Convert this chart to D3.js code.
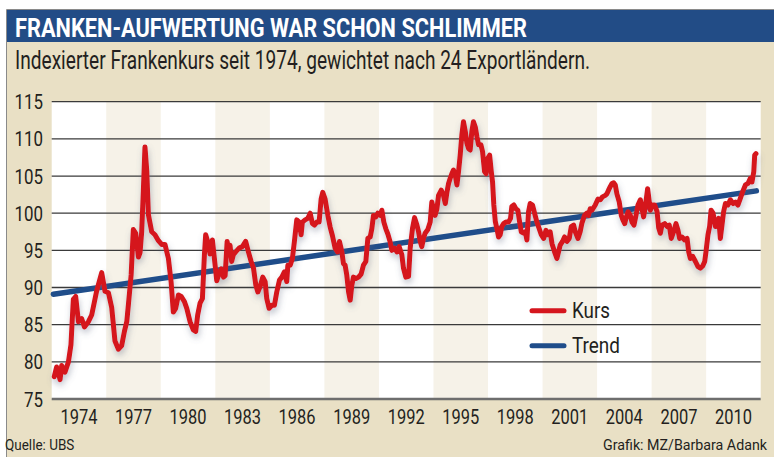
<!DOCTYPE html>
<html><head><meta charset="utf-8">
<script src="https://cdn.jsdelivr.net/npm/d3@7"></script>
<style>body{margin:0;background:#fff}svg{display:block}</style>
</head><body><svg id="c" width="774" height="457"></svg>
<script>
const title = "FRANKEN-AUFWERTUNG WAR SCHON SCHLIMMER";
const subtitle = "Indexierter Frankenkurs seit 1974, gewichtet nach 24 Exportländern.";
const source = "Quelle: UBS";
const credit = "Grafik: MZ/Barbara Adank";
const yTicks = [75, 80, 85, 90, 95, 100, 105, 110, 115];
const xTickYears = [1974, 1977, 1980, 1983, 1986, 1989, 1992, 1995, 1998, 2001, 2004, 2007, 2010];
const seriesNames = ["Kurs", "Trend"];

const kursTime = [1973.14,1973.27,1973.46,1973.55,1973.73,1973.92,1974.06,1974.19,1974.32,1974.47,1974.65,1974.80,1975.02,1975.20,1975.47,1975.75,1975.93,1976.12,1976.30,1976.48,1976.67,1976.85,1977.00,1977.13,1977.22,1977.37,1977.49,1977.62,1977.77,1977.86,1977.95,1978.04,1978.13,1978.23,1978.32,1978.50,1978.68,1978.87,1979.05,1979.23,1979.42,
1979.57,1979.69,1979.82,1979.97,1980.12,1980.30,1980.43,1980.61,1980.79,1980.92,1981.03,1981.16,1981.29,1981.40,1981.47,1981.58,1981.71,1981.84,1982.08,1982.17,1982.32,1982.45,1982.54,1982.65,1982.76,1982.81,1982.90,1982.99,1983.12,1983.31,1983.49,1983.67,1983.82,1983.97,1984.10,1984.23,1984.34,1984.46,1984.61,1984.74,1984.83,1984.96,1985.11,1985.25,1985.38,1985.53,1985.66,1985.80,
1985.93,1985.99,1986.12,1986.24,1986.35,1986.48,1986.61,1986.72,1986.79,1986.94,1987.09,1987.22,1987.34,1987.45,1987.58,1987.71,1987.82,1987.91,1988.04,1988.19,1988.32,1988.44,1988.59,1988.72,1988.83,1988.96,1989.05,1989.14,1989.23,1989.33,1989.42,1989.51,1989.60,1989.73,1989.88,1990.02,1990.15,1990.28,1990.39,1990.52,1990.61,1990.70,1990.83,1990.94,1991.07,1991.16,1991.27,1991.38,1991.49,1991.62,1991.71,1991.86,1991.99,1992.11,1992.26,1992.35,1992.48,1992.63,
1992.72,1992.85,1992.96,1993.09,1993.18,1993.27,1993.36,1993.45,1993.54,1993.69,1993.82,1993.91,1994.00,1994.09,1994.19,1994.28,1994.43,1994.55,1994.65,1994.74,1994.83,1994.92,1995.01,1995.10,1995.20,1995.29,1995.38,1995.47,1995.56,1995.65,1995.75,1995.84,1995.93,1996.02,1996.11,1996.20,1996.30,1996.39,1996.48,1996.61,1996.70,1996.81,1996.90,1996.99,1997.09,1997.18,1997.25,1997.32,1997.40,1997.49,1997.58,1997.67,1997.76,1997.86,1997.98,1998.13,1998.24,1998.31,1998.42,1998.53,1998.64,1998.74,1998.83,1998.96,1999.05,1999.14,1999.23,
1999.32,1999.45,1999.56,1999.69,1999.82,1999.93,2000.06,2000.19,2000.30,2000.42,2000.52,2000.66,2000.79,2000.88,2000.97,2001.10,2001.21,2001.34,2001.47,2001.58,2001.71,2001.80,2001.95,2002.07,2002.17,2002.31,2002.44,2002.53,2002.62,2002.72,2002.90,2003.05,2003.18,2003.30,2003.45,2003.54,2003.63,2003.73,2003.82,2003.91,2004.00,2004.09,2004.22,2004.33,2004.42,2004.52,2004.61,2004.70,2004.83,2004.92,2005.03,2005.14,2005.25,2005.38,2005.47,2005.56,
2005.65,2005.78,2005.93,2006.02,2006.17,2006.30,2006.39,2006.48,2006.57,2006.72,2006.85,2006.97,2007.08,2007.21,2007.34,2007.45,2007.54,2007.67,2007.82,2007.95,2008.04,2008.13,2008.26,2008.41,2008.55,2008.68,2008.81,2008.92,2008.99,2009.10,2009.19,2009.27,2009.38,2009.51,2009.60,2009.69,2009.78,2009.87,2009.96,2010.06,2010.20,2010.33,2010.48,2010.61,2010.75,2010.88,2011.01,2011.16,2011.30,2011.43,2011.52,2011.62,2011.67,2011.74];

const kursValue = [78.0,79.3,77.6,79.5,78.6,80.0,82.3,88.4,88.8,85.4,85.8,84.7,85.4,86.3,89.5,92.0,89.5,89.3,87.3,82.8,81.7,82.2,84.1,85.4,87.7,91.7,97.8,97.3,94.1,94.7,97.5,102.9,108.9,105.7,99.8,97.5,97.1,96.3,95.8,95.8,93.9,
90.7,86.7,87.2,89.0,88.8,88.1,87.2,85.4,84.3,84.1,86.3,87.9,88.5,94.4,97.1,96.2,94.5,96.4,90.9,91.6,92.5,91.4,91.6,96.2,94.6,95.7,93.5,94.4,94.8,95.3,95.5,96.2,94.8,93.5,92.6,90.3,89.4,90.1,91.4,90.8,88.5,87.2,87.6,87.6,89.4,91.0,91.4,92.1,
90.8,93.0,93.0,93.9,96.2,99.1,98.8,97.1,98.8,99.1,99.3,100.0,98.6,98.4,98.8,98.8,101.9,102.8,101.9,99.7,98.1,97.0,95.3,94.8,96.2,94.8,93.2,93.0,91.7,89.4,88.3,90.3,91.4,91.2,91.4,91.8,93.0,93.5,96.6,96.8,97.9,99.7,99.5,100.0,99.7,100.4,98.8,97.9,97.2,96.1,95.0,95.3,94.8,95.5,94.4,92.6,91.4,91.5,
95.3,98.0,99.4,98.4,97.5,96.2,95.5,96.6,97.3,97.8,98.8,101.5,100.6,99.7,100.6,102.4,103.1,102.4,101.3,102.8,104.0,104.7,105.3,105.8,105.1,103.8,105.6,107.8,110.5,112.3,111.0,109.4,108.7,108.5,111.0,112.3,111.6,110.3,109.2,109.2,108.3,105.6,105.3,107.4,107.8,105.6,104.2,101.1,98.9,97.9,96.8,97.1,98.2,98.6,98.8,98.8,99.3,100.9,101.1,100.6,100.4,98.8,97.5,97.3,97.5,96.4,100.2,
101.3,101.1,100.0,98.8,97.9,97.1,96.6,97.7,97.1,97.5,95.9,94.8,93.9,94.8,95.7,96.2,96.8,96.2,96.6,98.2,98.4,97.5,96.6,97.5,98.7,99.7,100.0,99.7,100.6,100.4,101.1,101.9,101.8,102.2,102.4,102.6,103.1,103.6,104.0,104.1,103.8,102.6,101.5,99.7,99.1,98.6,99.5,100.2,99.7,98.8,98.4,99.7,101.1,101.8,100.6,99.5,
100.8,103.3,100.4,101.1,101.1,100.2,98.0,97.3,98.4,98.6,98.2,98.4,96.6,97.5,98.6,97.7,96.6,96.8,96.4,96.6,94.8,93.9,94.2,93.5,92.8,92.6,92.9,93.5,94.8,97.1,98.2,100.4,100.0,98.2,98.4,99.3,96.6,98.4,100.2,101.3,101.1,101.8,101.3,101.5,101.1,102.0,102.9,103.8,104.0,104.7,104.2,105.6,107.8,108.0];

const trendTime = [1973.09, 2011.76];
const trendValue = [89.1, 103.0];

const kurs = kursTime.map((t, i) => ({t, v: kursValue[i]}));
const trend = trendTime.map((t, i) => ({t, v: trendValue[i]}));

const FONT = "Roboto, 'Liberation Sans', Arial, sans-serif";
const INK = "#231f20";
const svg = d3.select("#c");
const defs = svg.append("defs");
const f = defs.append("filter").attr("id", "sh").attr("x", "-5%").attr("y", "-10%").attr("width", "110%").attr("height", "130%");
f.append("feGaussianBlur").attr("in", "SourceAlpha").attr("stdDeviation", 3).attr("result", "b");
f.append("feOffset").attr("in", "b").attr("dx", 1).attr("dy", 4).attr("result", "o");
f.append("feFlood").attr("flood-color", "#5d6680").attr("flood-opacity", 0.38).attr("result", "c");
f.append("feComposite").attr("in", "c").attr("in2", "o").attr("operator", "in").attr("result", "s");
const m = f.append("feMerge");
m.append("feMergeNode").attr("in", "s");
m.append("feMergeNode").attr("in", "SourceGraphic");

// frame
svg.append("rect").attr("x", 6).attr("y", 10).attr("width", 768).attr("height", 447).attr("fill", "#e9e0c5");
svg.append("rect").attr("x", 6).attr("y", 10).attr("width", 768).attr("height", 32).attr("fill", "#224c86");
svg.append("path").attr("d", "M6.5,457V9.5H774").attr("fill", "none").attr("stroke", "#8a8a8a").attr("stroke-width", 1);

svg.append("text").attr("x", 15).attr("y", 37).text(title)
  .attr("font-family", FONT).attr("font-weight", 700).attr("font-size", 25).attr("fill", "#fff")
  .attr("textLength", 512).attr("lengthAdjust", "spacingAndGlyphs");
svg.append("text").attr("x", 15).attr("y", 69).text(subtitle)
  .attr("font-family", FONT).attr("font-size", 25).attr("fill", INK)
  .attr("textLength", 575).attr("lengthAdjust", "spacingAndGlyphs");

// plot
const L = 51.7, R = 760.7, T = 101.7, B = 399;
const x = d3.scaleLinear().domain([1973, 2012]).range([L, R]);
const y = d3.scaleLinear().domain([75, 115]).range([B, T]);

svg.append("rect").attr("x", L).attr("y", T).attr("width", R - L).attr("height", B - T).attr("fill", "#fff");
svg.append("g").selectAll("rect").data(xTickYears.filter((d, i) => i % 2 === 1)).join("rect")
  .attr("x", d => x(d - 1)).attr("width", d => x(d + 2) - x(d - 1))
  .attr("y", T).attr("height", B - T).attr("fill", "#f6f2e8");

svg.append("g").selectAll("line").data(yTicks.filter(d => d > 75)).join("line")
  .attr("x1", L).attr("x2", R).attr("y1", d => y(d)).attr("y2", d => y(d))
  .attr("stroke", "#3a3a3a").attr("stroke-width", 1.3);
svg.append("line").attr("x1", L).attr("x2", R).attr("y1", y(75)).attr("y2", y(75))
  .attr("stroke", "#6e6e6e").attr("stroke-width", 2.4);

svg.append("g").selectAll("text").data(yTicks).join("text")
  .attr("x", 43).attr("y", d => y(d) + 7.5).attr("text-anchor", "end").text(d => d)
  .attr("font-family", FONT).attr("font-size", 21).attr("fill", INK)
  .attr("textLength", d => String(d).length * 9.5).attr("lengthAdjust", "spacingAndGlyphs");

svg.append("g").selectAll("text").data(xTickYears).join("text")
  .attr("x", d => x(d + 0.5)).attr("y", 423.5).attr("text-anchor", "middle").text(d => d)
  .attr("font-family", FONT).attr("font-size", 21).attr("fill", INK)
  .attr("textLength", 37).attr("lengthAdjust", "spacingAndGlyphs");

const line = d3.line().x(d => x(d.t)).y(d => y(d.v));
svg.append("path").datum(trend).attr("d", line).attr("fill", "none")
  .attr("stroke", "#1f4d8a").attr("stroke-width", 5.5).attr("stroke-linecap", "round");
svg.append("path").datum(kurs).attr("d", line).attr("fill", "none")
  .attr("stroke", "#d5161e").attr("stroke-width", 5).attr("stroke-linecap", "round")
  .attr("stroke-linejoin", "round").attr("filter", "url(#sh)");

// legend
const legColors = ["#d5161e", "#1f4d8a"];
const legY = [310.7, 345.7];
const legW = [38, 48];
const lg = svg.append("g").selectAll("g").data(seriesNames).join("g");
lg.append("line").attr("x1", 532).attr("x2", 564).attr("y1", (d, i) => legY[i]).attr("y2", (d, i) => legY[i])
  .attr("stroke", (d, i) => legColors[i]).attr("stroke-width", 5).attr("stroke-linecap", "round");
lg.append("text").attr("x", 572).attr("y", (d, i) => legY[i] + 7.3).text(d => d)
  .attr("font-family", FONT).attr("font-size", 22).attr("fill", INK)
  .attr("textLength", (d, i) => legW[i]).attr("lengthAdjust", "spacingAndGlyphs");

// footer (condensed via horizontal scale)
svg.append("g").attr("transform", "translate(5,450) scale(0.9,1)")
  .append("text").attr("x", 0).attr("y", 0).text(source)
  .attr("font-family", FONT).attr("font-size", 15).attr("fill", INK);
svg.append("g").attr("transform", "translate(767,450) scale(0.95,1)")
  .append("text").attr("x", 0).attr("y", 0).attr("text-anchor", "end").text(credit)
  .attr("font-family", FONT).attr("font-size", 15).attr("fill", INK);
</script></body></html>
